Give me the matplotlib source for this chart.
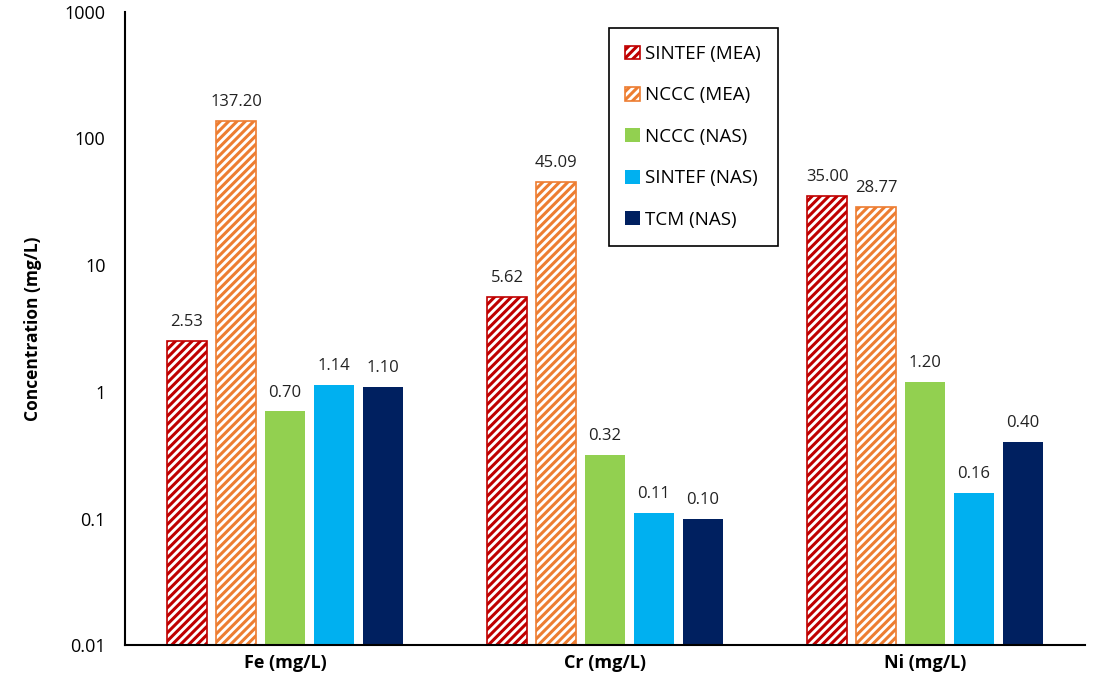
import matplotlib
matplotlib.use("Agg")
import matplotlib.pyplot as plt
import numpy as np

categories = ["Fe (mg/L)", "Cr (mg/L)", "Ni (mg/L)"]
series_names = ["SINTEF (MEA)", "NCCC (MEA)", "NCCC (NAS)", "SINTEF (NAS)", "TCM (NAS)"]
sintef_mea = [2.53, 5.62, 35.00]
nccc_mea = [137.20, 45.09, 28.77]
nccc_nas = [0.70, 0.32, 1.20]
sintef_nas = [1.14, 0.11, 0.16]
tcm_nas = [1.10, 0.10, 0.40]
series = [sintef_mea, nccc_mea, nccc_nas, sintef_nas, tcm_nas]
colors = ["#C00000", "#ED7D31", "#92D050", "#00B0F0", "#002060"]
hatched = [True, True, False, False, False]

plt.rcParams['font.family'] = ['Open Sans', 'DejaVu Sans']
plt.rcParams['hatch.linewidth'] = 2.2

fig = plt.figure(figsize=(10.96, 6.93), dpi=100)
ax = fig.add_axes([0.114, 0.069, 0.876, 0.914])

x = np.arange(len(categories))
width = 0.125
step = 0.153
for i, (vals, c, h) in enumerate(zip(series, colors, hatched)):
    pos = x + (i - 2) * step
    if h:
        ax.bar(pos, vals, width, facecolor="white", edgecolor=c,
               hatch="////", linewidth=1.2, label=series_names[i], zorder=2)
    else:
        ax.bar(pos, vals, width, color=c, label=series_names[i], zorder=2)
    for p, v in zip(pos, vals):
        ax.text(p, v * 1.22, f"{v:.2f}", ha="center", va="bottom", fontsize=12, color="#222222")

ax.set_yscale("log")
ax.set_ylim(0.01, 1000)
ax.set_xlim(-0.5, 2.5)
ax.set_yticks([0.01, 0.1, 1, 10, 100, 1000])
ax.set_yticklabels(["0.01", "0.1", "1", "10", "100", "1000"], fontsize=13)
ax.minorticks_off()
ax.tick_params(axis="y", length=0, pad=14)
ax.set_xticks(x)
ax.set_xticklabels(categories, fontsize=13, fontweight="bold")
ax.tick_params(axis="x", length=0, pad=6)
ax.spines["top"].set_visible(False)
ax.spines["right"].set_visible(False)
ax.spines["left"].set_linewidth(1.5)
ax.spines["bottom"].set_linewidth(1.5)
ax.set_ylabel("Concentration (mg/L)", fontsize=12.5, fontweight="bold", labelpad=16)

leg = ax.legend(loc="upper left", bbox_to_anchor=(0.494, 0.989), fontsize=13.5,
                frameon=True, fancybox=False, edgecolor="black", labelspacing=1.25,
                handlelength=0.75, handleheight=0.75, handletextpad=0.3,
                borderpad=0.9, framealpha=1)
leg.get_frame().set_linewidth(1.2)

fig.savefig("out.png", dpi=100)
